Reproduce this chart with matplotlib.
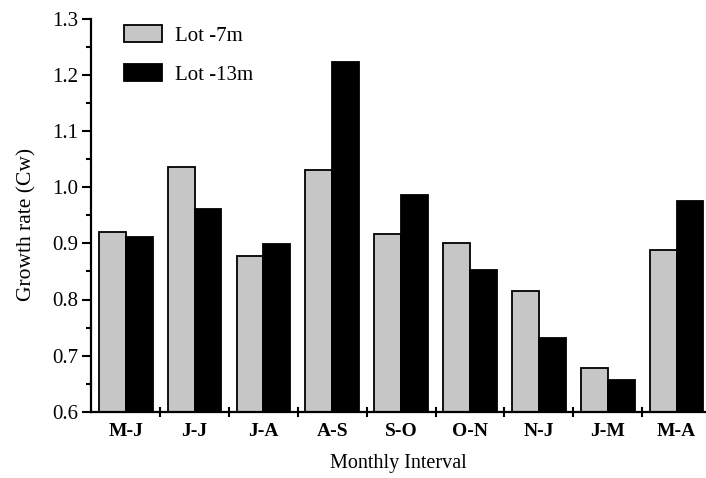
import matplotlib
matplotlib.use("Agg")
import matplotlib.pyplot as plt
import numpy as np
from matplotlib.ticker import MultipleLocator, FixedLocator, NullFormatter, FixedFormatter

categories = ["M-J", "J-J", "J-A", "A-S", "S-O", "O-N", "N-J", "J-M", "M-A"]
lot_7m = [0.921, 1.036, 0.877, 1.030, 0.917, 0.901, 0.816, 0.678, 0.888]
lot_13m = [0.912, 0.961, 0.899, 1.223, 0.986, 0.853, 0.731, 0.656, 0.975]
series_names = ["Lot -7m", "Lot -13m"]

plt.rcParams['font.family'] = ['Liberation Serif', 'DejaVu Serif']

fig = plt.figure(figsize=(7.06, 4.78), dpi=100)
W, H = 706, 478
ax_left = 91.3 / W
ax_bottom = 1 - 411.7 / H
ax_top = 1 - 19 / H
ax = fig.add_axes([ax_left, ax_bottom, 1.0 - ax_left, ax_top - ax_bottom])

x = np.arange(len(categories))
bw = 0.39
ax.bar(x - bw / 2, lot_7m, width=bw, color='#c6c6c6', edgecolor='black',
       linewidth=1.3, label=series_names[0], zorder=2)
ax.bar(x + bw / 2, lot_13m, width=bw, color='black', edgecolor='black',
       linewidth=1.3, label=series_names[1], zorder=3)

ax.set_ylim(0.6, 1.3)
ax.set_xlim(-0.5, 8.5 - 5 / 68.85)

for s in ['top', 'right']:
    ax.spines[s].set_visible(False)
for s in ['left', 'bottom']:
    ax.spines[s].set_linewidth(1.6)

ax.yaxis.set_minor_locator(MultipleLocator(0.05))
yt = np.arange(0.6, 1.31, 0.1)
ax.set_yticks(yt)
ax.set_yticklabels([f"{v:.1f}" for v in yt], fontsize=15)
ax.tick_params(axis='y', which='major', direction='out', length=6.5, width=1.5, pad=3)
ax.tick_params(axis='y', which='minor', direction='out', length=3.5, width=1.5)

ax.xaxis.set_major_locator(FixedLocator(x[:-1] + 0.5))
ax.xaxis.set_major_formatter(NullFormatter())
ax.xaxis.set_minor_locator(FixedLocator(x))
ax.xaxis.set_minor_formatter(FixedFormatter(categories))
ax.tick_params(axis='x', which='major', direction='inout', length=7, width=1.5)
ax.tick_params(axis='x', which='minor', length=0, pad=8, labelsize=14)
for lab in ax.xaxis.get_minorticklabels():
    lab.set_fontweight('bold')

ax.set_ylabel("Growth rate (Cw)", fontsize=15.5)
ax.yaxis.set_label_coords(-0.089, 0.476)
ax.set_xlabel("Monthly Interval", fontsize=14.5, labelpad=10)

leg = ax.legend(loc='upper left', bbox_to_anchor=(0.022, 1.032), frameon=False,
                fontsize=15, handlelength=1.85, handleheight=0.85,
                handletextpad=0.6, labelspacing=0.9)

fig.savefig("out.png", dpi=100)
